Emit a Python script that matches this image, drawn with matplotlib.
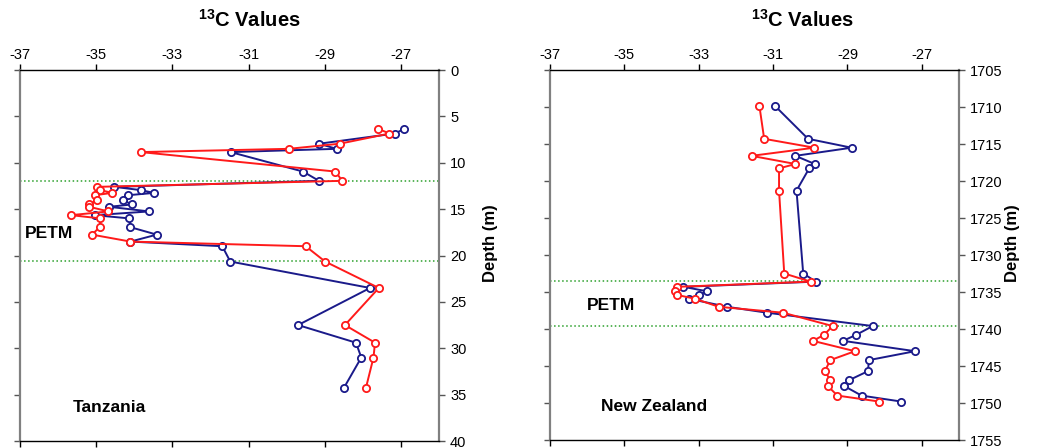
import matplotlib
matplotlib.use("Agg")
import matplotlib.pyplot as plt

plt.rcParams["font.family"] = ["Liberation Sans", "DejaVu Sans"]
plt.rcParams["axes.unicode_minus"] = False
plt.rcParams["mathtext.fontset"] = "custom"
plt.rcParams["mathtext.rm"] = "Liberation Sans"
plt.rcParams["mathtext.bf"] = "Liberation Sans:bold"

# Tanzania (depth in m, d13C values)
tz_depth = [6.35, 6.85, 7.95, 8.5, 8.85, 10.95, 11.95, 12.6, 12.95, 13.25,
            13.5, 14.0, 14.5, 14.75, 15.25, 15.65, 16.0, 16.95, 17.75, 18.5,
            19.0, 20.65, 23.5, 27.5, 29.4, 31.0, 34.3]
tz_blue = [-26.91, -27.16, -29.15, -28.69, -31.47, -29.57, -29.15, -34.52, -33.83, -33.48,
           -34.16, -34.30, -34.07, -34.66, -33.61, -35.04, -34.13, -34.10, -33.41, -34.10,
           -31.69, -31.48, -27.81, -29.70, -28.18, -28.04, -28.50]
tz_red = [-27.59, -27.30, -28.61, -29.95, -33.83, -28.72, -28.54, -34.98, -34.89, -34.58,
          -35.04, -34.98, -35.18, -35.18, -34.68, -35.66, -34.89, -34.91, -35.11, -34.10,
          -29.50, -28.99, -27.58, -28.47, -27.68, -27.72, -27.92]
tz_petm = [12.0, 20.6]

# New Zealand
nz_depth = [1709.8, 1714.3, 1715.5, 1716.6, 1717.7, 1718.3, 1721.3, 1732.5, 1733.6,
            1734.3, 1734.9, 1735.4, 1735.9, 1737.0, 1737.8, 1739.6, 1740.8, 1741.6,
            1743.0, 1744.2, 1745.7, 1746.9, 1747.7, 1749.0, 1749.8]
nz_blue = [-30.96, -30.06, -28.89, -30.40, -29.88, -30.03, -30.37, -30.19, -29.85,
           -33.41, -32.78, -33.00, -33.27, -32.24, -31.16, -28.32, -28.77, -29.12,
           -27.18, -28.42, -28.45, -28.95, -29.09, -28.62, -27.56]
nz_red = [-31.37, -31.24, -29.89, -31.58, -30.40, -30.84, -30.84, -30.70, -29.99,
          -33.58, -33.63, -33.58, -33.11, -32.46, -30.73, -29.40, -29.63, -29.93,
          -28.80, -29.46, -29.61, -29.46, -29.53, -29.27, -28.15]
nz_petm = [1733.5, 1739.6]

x_ticks = [-37, -35, -33, -31, -29, -27]

W, H = 1043, 448
fig = plt.figure(figsize=(W / 100, H / 100), dpi=100)


def make_panel(rect, depth, blue, red, petm, ylim, yticks, name, name_xy, petm_xy, title_x, ylab_x):
    ax = fig.add_axes(rect)
    ax.axhline(petm[0], color="#2ca02c", ls=":", lw=1.1, zorder=1)
    ax.axhline(petm[1], color="#2ca02c", ls=":", lw=1.1, zorder=1)
    ax.plot(blue, depth, color="#1a1a8a", lw=1.4, marker="o", ms=5.2,
            mfc="white", mec="#1a1a8a", mew=1.3, zorder=3)
    ax.plot(red, depth, color="#ff1a1a", lw=1.4, marker="o", ms=5.2,
            mfc="white", mec="#ff1a1a", mew=1.3, zorder=4)
    ax.set_xlim(-37, -26)
    ax.set_ylim(*ylim)
    ax.set_xticks(x_ticks)
    ax.set_yticks(yticks)
    ax.tick_params(axis="x", top=True, bottom=True, labeltop=True, labelbottom=False,
                   direction="out", length=4, width=1, labelsize=10.5, pad=2)
    ax.tick_params(axis="y", left=True, right=True, labelleft=False, labelright=True,
                   direction="out", length=4, width=1, color="#555555", labelsize=10.5, pad=4)
    for s in ["left", "right"]:
        ax.spines[s].set_color("#808080")
        ax.spines[s].set_linewidth(1.6)
    for s in ["top", "bottom"]:
        ax.spines[s].set_color("black")
        ax.spines[s].set_linewidth(1.0)
    ax.text(*petm_xy, "PETM", transform=fig.transFigure, fontsize=12.5,
            fontweight="bold", va="center", ha="left")
    ax.text(*name_xy, name, transform=fig.transFigure, fontsize=12.5,
            fontweight="bold", va="center", ha="left")
    fig.text(title_x, 1 - 20 / H, r"$^{\mathbf{13}}$C Values", fontsize=14.5,
             fontweight="bold", ha="center", va="center")
    fig.text(ylab_x, 1 - 243 / H, "Depth (m)", fontsize=12, fontweight="bold",
             rotation=90, ha="center", va="center")
    return ax


make_panel([20 / W, (H - 441) / H, 419 / W, 371 / H], tz_depth, tz_blue, tz_red, tz_petm,
           (40, 0), list(range(0, 41, 5)), "Tanzania",
           (73 / W, 1 - 407 / H), (25 / W, 1 - 233 / H), 249 / W, 491 / W)
make_panel([550 / W, (H - 440) / H, 409 / W, 370 / H], nz_depth, nz_blue, nz_red, nz_petm,
           (1755, 1705), list(range(1705, 1756, 5)), "New Zealand",
           (601 / W, 1 - 406 / H), (587 / W, 1 - 305 / H), 802 / W, 1012 / W)

fig.savefig("out.png", dpi=100)
